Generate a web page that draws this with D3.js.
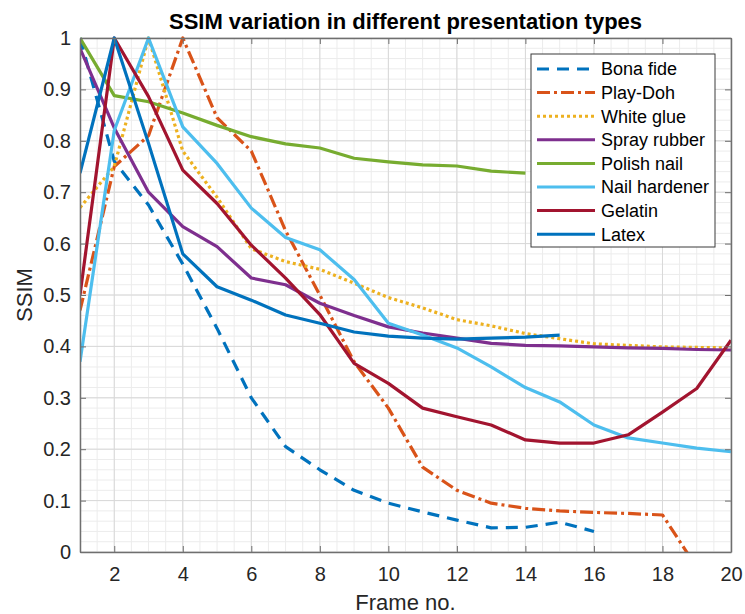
<!DOCTYPE html>
<html>
<head>
<meta charset="utf-8">
<title>SSIM variation</title>
<script src="https://cdn.jsdelivr.net/npm/d3@7"></script>
<style type="text/css">
  body { margin: 0; background: #ffffff; }
  .tick_text { font-family: "Liberation Sans", Arial, sans-serif; font-size: 20px; fill: #262626; }
  .label_text { font-family: "Liberation Sans", Arial, sans-serif; font-size: 22px; fill: #262626; }
  .title_text { font-family: "Liberation Sans", Arial, sans-serif; font-size: 22px; font-weight: bold; fill: #000000; }
  .legend_text { font-family: "Liberation Sans", Arial, sans-serif; font-size: 18px; fill: #000000; }
</style>
</head>
<body>
<div class="chart"></div>
<script type="text/javascript">

// data
var frames = d3.range(1, 21);
var seriesNames = ["Bona fide", "Play-Doh", "White glue", "Spray rubber", "Polish nail", "Nail hardener", "Gelatin", "Latex"];
var bonaFide     = [1.0, 0.76, 0.675, 0.56, 0.435, 0.30, 0.205, 0.16, 0.12, 0.095, 0.078, 0.062, 0.047, 0.048, 0.058, 0.04];
var playDoh      = [0.47, 0.75, 0.81, 1.0, 0.845, 0.78, 0.625, 0.50, 0.37, 0.28, 0.165, 0.12, 0.095, 0.085, 0.08, 0.077, 0.075, 0.072, -0.03];
var whiteGlue    = [0.67, 0.75, 1.0, 0.78, 0.69, 0.59, 0.565, 0.55, 0.523, 0.495, 0.475, 0.452, 0.44, 0.425, 0.415, 0.405, 0.402, 0.399, 0.398, 0.397];
var sprayRubber  = [0.98, 0.825, 0.70, 0.633, 0.594, 0.533, 0.52, 0.484, 0.46, 0.438, 0.426, 0.416, 0.406, 0.402, 0.401, 0.399, 0.397, 0.396, 0.394, 0.393];
var polishNail   = [1.0, 0.888, 0.876, 0.854, 0.83, 0.808, 0.794, 0.786, 0.766, 0.759, 0.753, 0.751, 0.741, 0.737];
var nailHardener = [0.37, 0.82, 1.0, 0.827, 0.756, 0.669, 0.612, 0.588, 0.53, 0.445, 0.422, 0.397, 0.36, 0.32, 0.292, 0.247, 0.222, 0.212, 0.202, 0.195];
var gelatin      = [0.50, 1.0, 0.886, 0.743, 0.678, 0.597, 0.533, 0.462, 0.367, 0.328, 0.28, 0.263, 0.247, 0.218, 0.212, 0.212, 0.228, 0.272, 0.318, 0.412];
var latex        = [0.737, 1.0, 0.795, 0.58, 0.516, 0.49, 0.461, 0.445, 0.428, 0.42, 0.416, 0.414, 0.416, 0.418, 0.422];
var allSeries = [bonaFide, playDoh, whiteGlue, sprayRubber, polishNail, nailHardener, gelatin, latex];
var colors = ["#0072BD", "#D95319", "#EDB120", "#7E2F8E", "#77AC30", "#4DBEEE", "#A2142F", "#0072BD"];
var dashes = ["12,8", "13,4,3,4", "3,3", null, null, null, null, null];
var xTicks = d3.range(2, 21, 2);
var yTicks = d3.range(0, 11).map(function(d) { return d / 10; });
var xMinor = d3.range(1, 20.01, 0.5);
var yMinor = d3.range(0, 51).map(function(d) { return d / 50; });

var W = 745, H = 614;
var pLeft = 80, pRight = 731, pTop = 38, pBottom = 552;

var x = d3.scaleLinear().domain([1, 20]).range([pLeft, pRight]);
var y = d3.scaleLinear().domain([0, 1]).range([pBottom, pTop]);

var svg = d3.select(".chart").append("svg").attr("width", W).attr("height", H);

// minor grid
svg.append("g").selectAll("line").data(xMinor).enter().append("line")
  .attr("x1", function(d) { return x(d); }).attr("x2", function(d) { return x(d); })
  .attr("y1", pTop).attr("y2", pBottom)
  .attr("stroke", "#ececec").attr("stroke-width", 1);
svg.append("g").selectAll("line").data(yMinor).enter().append("line")
  .attr("y1", function(d) { return y(d); }).attr("y2", function(d) { return y(d); })
  .attr("x1", pLeft).attr("x2", pRight)
  .attr("stroke", "#ececec").attr("stroke-width", 1);

// major grid
svg.append("g").selectAll("line").data(xTicks).enter().append("line")
  .attr("x1", function(d) { return x(d); }).attr("x2", function(d) { return x(d); })
  .attr("y1", pTop).attr("y2", pBottom)
  .attr("stroke", "#d8d8d8").attr("stroke-width", 1);
svg.append("g").selectAll("line").data(yTicks).enter().append("line")
  .attr("y1", function(d) { return y(d); }).attr("y2", function(d) { return y(d); })
  .attr("x1", pLeft).attr("x2", pRight)
  .attr("stroke", "#d8d8d8").attr("stroke-width", 1);

// lines
svg.append("clipPath").attr("id", "plotclip").append("rect")
  .attr("x", pLeft).attr("y", pTop - 2).attr("width", pRight - pLeft).attr("height", pBottom - pTop + 2);

var line = d3.line()
  .x(function(d, i) { return x(frames[i]); })
  .y(function(d) { return y(d); });

svg.append("g").attr("clip-path", "url(#plotclip)")
  .selectAll("path").data(allSeries).enter().append("path")
  .attr("d", function(d) { return line(d); })
  .attr("fill", "none")
  .attr("stroke", function(d, i) { return colors[i]; })
  .attr("stroke-width", 3.2)
  .attr("stroke-linejoin", "round")
  .attr("stroke-dasharray", function(d, i) { return dashes[i]; });

// axes with inward ticks (box on)
var axisColor = "#6f6f6f";
function styleAxis(g) {
  g.select(".domain").attr("stroke", axisColor).attr("stroke-width", 1.5);
  g.selectAll(".tick line").attr("stroke", axisColor);
  g.selectAll("text").attr("class", "tick_text").attr("fill", null).attr("font-size", null).attr("font-family", null);
}
svg.append("g").attr("transform", "translate(0," + pBottom + ")")
  .call(d3.axisBottom(x).tickValues(xTicks).tickSizeInner(-6).tickSizeOuter(0).tickPadding(15))
  .call(styleAxis);
svg.append("g").attr("transform", "translate(0," + pTop + ")")
  .call(d3.axisTop(x).tickValues(xTicks).tickSizeInner(-6).tickSizeOuter(0).tickFormat(""))
  .call(styleAxis);
svg.append("g").attr("transform", "translate(" + pLeft + ",0)")
  .call(d3.axisLeft(y).tickValues(yTicks).tickSizeInner(-6).tickSizeOuter(0).tickPadding(9).tickFormat(d3.format("~g")))
  .call(styleAxis);
svg.append("g").attr("transform", "translate(" + pRight + ",0)")
  .call(d3.axisRight(y).tickValues(yTicks).tickSizeInner(-6).tickSizeOuter(0).tickFormat(""))
  .call(styleAxis);

// labels and title
svg.append("text").attr("class", "title_text")
  .attr("x", (pLeft + pRight) / 2).attr("y", 29).attr("text-anchor", "middle")
  .text("SSIM variation in different presentation types");
svg.append("text").attr("class", "label_text")
  .attr("x", (pLeft + pRight) / 2).attr("y", 610).attr("text-anchor", "middle")
  .text("Frame no.");
svg.append("text").attr("class", "label_text")
  .attr("transform", "translate(32," + (pTop + pBottom) / 2 + ") rotate(-90)")
  .attr("text-anchor", "middle")
  .text("SSIM");

// legend
var lx = 531, ly = 54, lw = 184, lh = 193, rowH = 23.6;
var legend = svg.append("g");
legend.append("rect").attr("x", lx).attr("y", ly).attr("width", lw).attr("height", lh)
  .attr("fill", "#ffffff").attr("stroke", "#3a3a3a").attr("stroke-width", 1);
var rows = legend.selectAll("g.row").data(seriesNames).enter().append("g").attr("class", "row")
  .attr("transform", function(d, i) { return "translate(0," + (ly + 15 + i * rowH) + ")"; });
rows.append("line")
  .attr("x1", lx + 6).attr("x2", lx + 64).attr("y1", 0).attr("y2", 0)
  .attr("stroke", function(d, i) { return colors[i]; })
  .attr("stroke-width", 3)
  .attr("stroke-dasharray", function(d, i) { return dashes[i]; });
rows.append("text").attr("class", "legend_text")
  .attr("x", lx + 70).attr("y", 0).attr("dy", "0.35em")
  .text(function(d) { return d; });

</script>
</body>
</html>
